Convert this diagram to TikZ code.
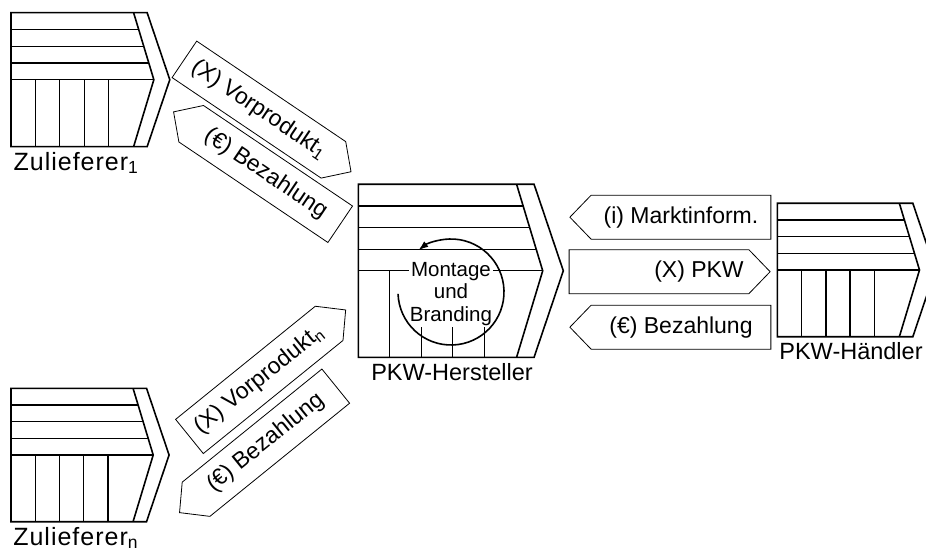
\documentclass[tikz,border=0pt]{standalone}
\usepackage{fontspec}
\setmainfont{Liberation Sans}
\newfontfamily\widesans[LetterSpace=4]{Liberation Sans}
\usetikzlibrary{positioning, shapes.symbols, arrows.meta}

\begin{document}
\begin{tikzpicture}[
    x=1pt, y=1pt,
    chainline/.style={line width=1.6pt, line join=miter},
    cellline/.style={line width=1.3pt},
    valuechain/.pic={
        \draw[chainline] (0,0) -- (0,1) -- (1.016,1) -- (1.185,0.5) -- (1.016,0) -- cycle;
        \draw[chainline] (0.915,1) -- (1.066,0.5) -- (0.915,0);
        \foreach \yy/\xx in {0.5/1.066, 0.625/1.028, 0.75/0.991, 0.875/0.953}
            \draw[cellline] (0,\yy) -- (\xx,\yy);
        \foreach \xx in {0.182, 0.364, 0.546, 0.728}
            \draw[cellline] (\xx,0) -- (\xx,0.5);
        \coordinate (-foot) at (0.53,0);
    },
    flow/.style={
        signal, draw, line width=0.8pt,
        signal pointer angle=92,
        minimum width=201pt, minimum height=44pt, inner sep=0pt,
        font=\fontsize{23}{25}\selectfont
    },
    toright/.style={flow, signal to=east},
    toleft/.style={flow, signal to=west},
    lbl/.style={font=\fontsize{23.5}{25}\selectfont, inner sep=0pt},
    turn/.style={-{Latex[length=10pt,width=7pt]}, line width=1.6pt}
]
\useasboundingbox (0,0) rectangle (926,555);

% value chains
\pic[x=134pt, y=134pt] (zl) at (11pt,408.3pt) {valuechain};
\pic[x=133.4pt, y=133.4pt] (zn) at (11pt,33.3pt) {valuechain};
\pic[x=173pt, y=173pt] (oem) at (358.3pt,197.7pt) {valuechain};
\pic[x=133.4pt, y=133.4pt] (dlr) at (777.3pt,218.3pt) {valuechain};

\node[lbl, below=5pt of zl-foot, xshift=-6pt] (zlname) {\widesans\fontsize{25}{26}\selectfont Zulieferer\textsubscript{1}};
\node[lbl, below=5pt of zn-foot, xshift=-6pt] (znname) {\widesans\fontsize{25}{26}\selectfont Zulieferer\textsubscript{n}};
\node[lbl, below=6pt of oem-foot, xshift=2pt] (oemname) {PKW-Hersteller};
\node[lbl, below=6pt of dlr-foot, xshift=3pt] (dlrname) {PKW-Händler};

% assembly cycle
\coordinate (hub) at (451,263);
\node[lbl, fill=white, inner sep=1pt, align=center,
      font=\fontsize{20.5}{22.5}\selectfont] (mub) at (451,261) {Montage\\und\\Branding};
\draw[turn] ([shift={(182:53)}]hub) arc[start angle=182, end angle=488, radius=53];

% flows supplier side
\node[toright, rotate=-34] (part1) at (258.9,445.4) {(X) Vorprodukt\textsubscript{1}};
\node[toleft, rotate=-34] (pay1) at (265.7,381) {(€) Bezahlung};
\node[toright, rotate=39] (partn) at (259.3,175.1) {(X) Vorprodukt\textsubscript{n}};
\node[toleft, rotate=39] (payn) at (265.9,112.3) {(€) Bezahlung};

% flows dealer side
\node[toleft] (info) at (681,337.8) {(i) Marktinform.};
\node[toright] (car) at (659,283.3) {\hspace*{80pt}(X) PKW};
\node[toleft] (pay) at (681,227.8) {(€) Bezahlung};
\end{tikzpicture}
\end{document}
